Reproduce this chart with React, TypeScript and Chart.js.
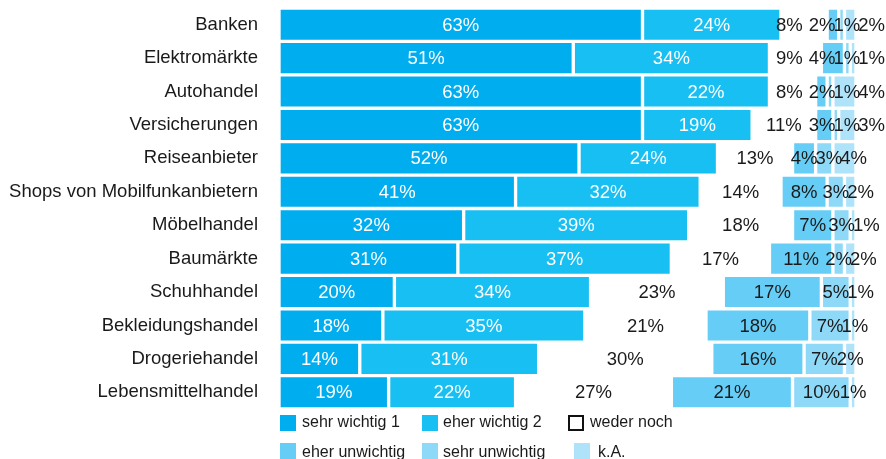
import React, { useEffect, useRef } from 'react';
import { Chart, registerables } from 'chart.js';

Chart.register(...registerables);

const categories = [
  'Banken',
  'Elektromärkte',
  'Autohandel',
  'Versicherungen',
  'Reiseanbieter',
  'Shops von Mobilfunkanbietern',
  'Möbelhandel',
  'Baumärkte',
  'Schuhhandel',
  'Bekleidungshandel',
  'Drogeriehandel',
  'Lebensmittelhandel',
];

const sehrWichtig = [63, 51, 63, 63, 52, 41, 32, 31, 20, 18, 14, 19];
const eherWichtig = [24, 34, 22, 19, 24, 32, 39, 37, 34, 35, 31, 22];
const wederNoch = [8, 9, 8, 11, 13, 14, 18, 17, 23, 21, 30, 27];
const eherUnwichtig = [2, 4, 2, 3, 4, 8, 7, 11, 17, 18, 16, 21];
const sehrUnwichtig = [1, 1, 1, 1, 3, 3, 3, 2, 5, 7, 7, 10];
const keineAngabe = [2, 1, 4, 3, 4, 2, 1, 2, 1, 1, 2, 1];

const seriesNames = ['sehr wichtig 1', 'eher wichtig 2', 'weder noch', 'eher unwichtig', 'sehr unwichtig', 'k.A.'];
const seriesColors = ['#00ADEF', '#17BFF2', '#FFFFFF', '#66CEF6', '#8ED9F8', '#AEE3FA'];
const labelColors = ['#FFFFFF', '#FFFFFF', '#1a1a1a', '#1a1a1a', '#1a1a1a', '#1a1a1a'];

const FONT = '"Liberation Sans", Arial, Helvetica, sans-serif';

type Lbl = { text: string; c: number; tw: number; bw: number; y: number; color: string; start?: number };

// greedy left-to-right de-overlap, then pull back from the right edge
function place(items: Lbl[], rightLimit: number) {
  items.sort((a, b) => a.c - b.c);
  let prevEnd = -Infinity;
  for (const it of items) {
    let start = it.c - it.tw / 2;
    if (start < prevEnd) start = prevEnd;
    it.start = start;
    prevEnd = start + it.bw;
  }
  let limit = rightLimit;
  for (let k = items.length - 1; k >= 0; k--) {
    const it = items[k];
    if ((it.start as number) + it.bw > limit) it.start = limit - it.bw;
    limit = it.start as number;
  }
}

const segmentLabels = {
  id: 'segmentLabels',
  afterDatasetsDraw(chart: any) {
    const ctx = chart.ctx;
    ctx.save();
    ctx.font = `18.5px ${FONT}`;
    ctx.textAlign = 'center';
    ctx.textBaseline = 'middle';
    const n = chart.data.labels.length;
    for (let i = 0; i < n; i++) {
      const row: Lbl[] = [];
      chart.data.datasets.forEach((ds: any, di: number) => {
        const el = chart.getDatasetMeta(di).data[i];
        const p = el.getProps(['x', 'base', 'y'], true);
        const text = ds.data[i] + '%';
        const tw = ctx.measureText(text).width;
        row.push({
          text,
          c: (p.x + p.base) / 2,
          tw,
          bw: di === 2 ? tw + 6 : tw - 2,
          y: p.y,
          color: labelColors[di],
        });
      });
      place(row, chart.width - 3);
      row.forEach((l) => {
        ctx.fillStyle = l.color;
        ctx.fillText(l.text, (l.start as number) + l.tw / 2, l.y + 1);
      });
    }
    ctx.restore();
  },
};

// legend grid: column offsets from chart-area left edge
const legendLayout = [
  { col: 1, row: 0, textGap: 22 },
  { col: 143, row: 0, textGap: 21 },
  { col: 289, row: 0, textGap: 22 },
  { col: 1, row: 1, textGap: 22 },
  { col: 143, row: 1, textGap: 21 },
  { col: 295, row: 1, textGap: 24 },
];

const gridLegend = {
  id: 'gridLegend',
  afterDraw(chart: any) {
    const ctx = chart.ctx;
    const left = chart.chartArea.left;
    const top0 = chart.chartArea.bottom + 6;
    ctx.save();
    ctx.font = `16px ${FONT}`;
    ctx.textAlign = 'left';
    ctx.textBaseline = 'middle';
    seriesNames.forEach((name, i) => {
      const L = legendLayout[i];
      const bx = left + L.col;
      const by = top0 + L.row * 28;
      if (i === 2) {
        ctx.fillStyle = '#FFFFFF';
        ctx.fillRect(bx, by, 16, 16);
        ctx.strokeStyle = '#111111';
        ctx.lineWidth = 2;
        ctx.strokeRect(bx + 1, by + 1, 14, 14);
      } else {
        ctx.fillStyle = seriesColors[i];
        ctx.fillRect(bx, by, 16, 16);
      }
      ctx.fillStyle = '#1a1a1a';
      ctx.fillText(name, bx + L.textGap, by + 8 + L.row * 2);
    });
    ctx.restore();
  },
};

export default function App() {
  const canvasRef = useRef<HTMLCanvasElement | null>(null);

  useEffect(() => {
    if (!canvasRef.current) return;
    const all = [sehrWichtig, eherWichtig, wederNoch, eherUnwichtig, sehrUnwichtig, keineAngabe];
    const chart = new Chart(canvasRef.current, {
      type: 'bar',
      data: {
        labels: categories,
        datasets: all.map((d, i) => ({
          label: seriesNames[i],
          data: d,
          backgroundColor: seriesColors[i],
          borderColor: '#FFFFFF',
          borderWidth: 2,
          borderSkipped: false,
          barPercentage: 1,
          categoryPercentage: 1,
        })),
      },
      options: {
        indexAxis: 'y',
        responsive: false,
        animation: false,
        layout: { padding: { left: 0, right: 30, top: 8, bottom: 50 } },
        plugins: {
          legend: { display: false },
          tooltip: { enabled: false },
        },
        scales: {
          x: {
            display: false,
            stacked: true,
            min: 0,
            max: 100,
          },
          y: {
            stacked: true,
            grid: { display: false, drawTicks: false },
            border: { display: false },
            ticks: {
              padding: 21,
              color: '#1a1a1a',
              font: { size: 18.5, family: FONT },
            },
            afterFit: (s: any) => {
              s.width = 279;
              s.paddingTop = 0;
              s.paddingBottom = 0;
            },
          },
        },
      },
      plugins: [segmentLabels, gridLegend],
    } as any);
    return () => chart.destroy();
  }, []);

  return (
    <div style={{ position: 'fixed', left: 0, top: 0, width: 886, height: 459, background: '#fff' }}>
      <canvas ref={canvasRef} width={886} height={459} style={{ display: 'block' }} />
    </div>
  );
}
